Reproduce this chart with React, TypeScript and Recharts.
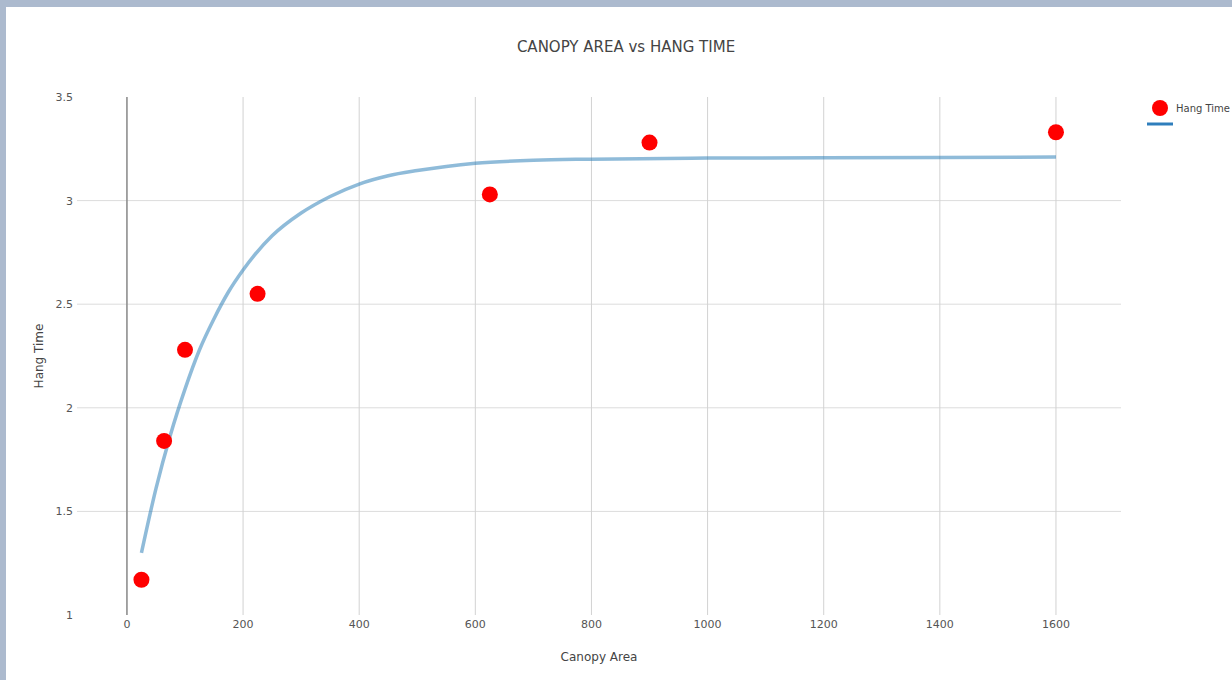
import React from 'react';
import { ScatterChart, Scatter, XAxis, YAxis, ReferenceLine, Legend, Label } from 'recharts';

// Measured data
const areas = [25, 64, 100, 225, 625, 900, 1600];
const hangTimes = [1.17, 1.84, 2.28, 2.55, 3.03, 3.28, 3.33];

// Fitted curve
const fitAreas = [25, 50, 75, 100, 125, 150, 175, 200, 250, 300, 350, 400, 450, 500, 550, 600, 700, 800, 1000, 1200, 1400, 1600];
const fitTimes = [1.30, 1.61, 1.87, 2.09, 2.28, 2.43, 2.56, 2.665, 2.83, 2.94, 3.02, 3.08, 3.12, 3.145, 3.165, 3.18, 3.195, 3.2, 3.205, 3.207, 3.208, 3.21];

const xTicks = [0, 200, 400, 600, 800, 1000, 1200, 1400, 1600];
const yTicks = [1, 1.5, 2, 2.5, 3, 3.5];
const xGrid = [200, 400, 600, 800, 1000, 1200, 1400, 1600];
const yGrid = [1.5, 2, 2.5, 3];

const FONT = '"DejaVu Sans", Verdana, sans-serif';

export default function App() {
  const points = areas.map((a, i) => ({ x: a, y: hangTimes[i] }));
  const fit = fitAreas.map((a, i) => ({ x: a, y: fitTimes[i] }));

  return (
    <div style={{ position: 'absolute', left: 0, top: 0, width: 1232, height: 680, overflow: 'hidden', background: '#acbace', fontFamily: FONT }}>
      <div style={{ position: 'absolute', left: 6, top: 7, width: 1240, height: 700, background: '#ffffff' }} />
      <div style={{ position: 'absolute', left: 0, top: 38, width: 1252, textAlign: 'center', fontSize: 15, lineHeight: '18px', color: '#444' }}>
        CANOPY AREA vs HANG TIME
      </div>
      <div style={{ position: 'absolute', left: 0, top: 0 }}>
        <ScatterChart width={1232} height={680} margin={{ top: 97, right: 111, bottom: 35, left: 0 }}>
          <XAxis
            type="number"
            dataKey="x"
            domain={[-86, 1712]}
            allowDataOverflow
            ticks={xTicks}
            axisLine={false}
            tickLine={false}
            tickSize={5}
            tickMargin={0}
            height={30}
            tick={{ fontSize: 11, fill: '#555', fontFamily: FONT }}
          >
            <Label
              content={(props: any) => {
                const vb = props.viewBox || {};
                return (
                  <text x={vb.x + vb.width / 2} y={657} textAnchor="middle" dominantBaseline="central" fontSize={12} fill="#444" fontFamily={FONT}>
                    Canopy Area
                  </text>
                );
              }}
            />
          </XAxis>
          <YAxis
            type="number"
            dataKey="y"
            domain={[1, 3.5]}
            allowDataOverflow
            ticks={yTicks}
            axisLine={false}
            tickLine={false}
            tickSize={4}
            tickMargin={0}
            width={77}
            tick={{ fontSize: 11, fill: '#555', fontFamily: FONT }}
          >
            <Label
              content={(props: any) => {
                const vb = props.viewBox || {};
                const cy = vb.y + vb.height / 2;
                return (
                  <text x={39} y={cy} textAnchor="middle" dominantBaseline="central" fontSize={12} fill="#444" fontFamily={FONT} transform={`rotate(-90, 39, ${cy})`}>
                    Hang Time
                  </text>
                );
              }}
            />
          </YAxis>
          {yGrid.map((v) => (
            <ReferenceLine key={'y' + v} y={v} stroke="#dcdcdc" strokeWidth={1} />
          ))}
          {xGrid.map((v) => (
            <ReferenceLine key={'x' + v} x={v} stroke="#d2d2d2" strokeWidth={1} />
          ))}
          <ReferenceLine x={0} stroke="#8e8e8e" strokeWidth={1.6} />
          <Legend
            layout="vertical"
            align="center"
            verticalAlign="middle"
            wrapperStyle={{ position: 'absolute', left: 1140, top: 98, width: 90, height: 34 }}
            content={() => (
              <svg width={90} height={34} style={{ display: 'block' }}>
                <circle cx={20} cy={10} r={8} fill="#ff0000" />
                <text x={36} y={10} dominantBaseline="central" fontSize={10} fill="#444" fontFamily={FONT}>Hang Time</text>
                <line x1={7} x2={33} y1={26} y2={26} stroke="#2f7ebc" strokeWidth={3} />
              </svg>
            )}
          />
          <Scatter
            name="fit"
            data={fit}
            isAnimationActive={false}
            line={{ stroke: '#1f77b4', strokeWidth: 3.5, strokeOpacity: 0.5 }}
            lineJointType="monotoneX"
            shape={() => <g />}
          />
          <Scatter
            name="Hang Time"
            data={points}
            isAnimationActive={false}
            fill="#ff0000"
            shape={(p: any) => <circle cx={p.cx} cy={p.cy} r={8} fill="#ff0000" />}
          />
        </ScatterChart>
      </div>
    </div>
  );
}
